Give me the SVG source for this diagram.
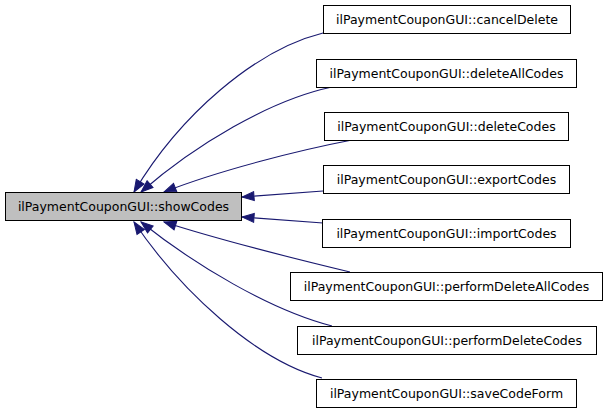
<svg xmlns="http://www.w3.org/2000/svg" width="608" height="413" viewBox="0 0 608 413">
<style>
.node rect{stroke:#000;stroke-width:1;fill:#fff}
#main rect{fill:#bfbfbf}
.node text{font-family:"DejaVu Sans",sans-serif;font-size:12.5px;text-anchor:middle;fill:#000}
.edge{fill:none;stroke:#191970;stroke-width:1.1;marker-end:url(#ah)}
</style>
<defs>
<marker id="ah" markerUnits="userSpaceOnUse" markerWidth="14" markerHeight="11" viewBox="0 0 14 11" refX="13" refY="5.5" orient="auto">
<path d="M1,1 L13,5.5 L1,10 z" fill="#191970" stroke="#191970" stroke-width="1"/>
</marker>
</defs>
<g id="edges">
<path class="edge" d="M323,33 C255,50 180,115 134,192"/>
<path class="edge" d="M332,87 C270,100 195,145 141,192"/>
<path class="edge" d="M352,140 C300,150 220,170 164,192"/>
<path class="edge" d="M323,191 L242,197"/>
<path class="edge" d="M323,223 L242,217"/>
<path class="edge" d="M350,272 C300,260 220,240 164,222"/>
<path class="edge" d="M332,326 C270,310 195,265 141,222"/>
<path class="edge" d="M322,378 C255,360 180,290 134,222"/>
</g>
<g id="main" class="node"><rect x="5.5" y="192.5" width="236" height="28"/><text x="123.5" y="211">ilPaymentCouponGUI::showCodes</text></g>
<g id="n1" class="node"><rect x="323.5" y="5.5" width="247" height="28"/><text x="447" y="24">ilPaymentCouponGUI::cancelDelete</text></g>
<g id="n2" class="node"><rect x="316.5" y="59.5" width="260" height="28"/><text x="446.5" y="78">ilPaymentCouponGUI::deleteAllCodes</text></g>
<g id="n3" class="node"><rect x="324.5" y="112.5" width="244" height="28"/><text x="446.5" y="131">ilPaymentCouponGUI::deleteCodes</text></g>
<g id="n4" class="node"><rect x="323.5" y="165.5" width="246" height="28"/><text x="446.5" y="184">ilPaymentCouponGUI::exportCodes</text></g>
<g id="n5" class="node"><rect x="322.5" y="219.5" width="248" height="28"/><text x="446.5" y="238">ilPaymentCouponGUI::importCodes</text></g>
<g id="n6" class="node"><rect x="290.5" y="272.5" width="312" height="28"/><text x="446.5" y="291">ilPaymentCouponGUI::performDeleteAllCodes</text></g>
<g id="n7" class="node"><rect x="297.5" y="326.5" width="299" height="28"/><text x="447" y="345">ilPaymentCouponGUI::performDeleteCodes</text></g>
<g id="n8" class="node"><rect x="316.5" y="379.5" width="260" height="28"/><text x="446.5" y="398">ilPaymentCouponGUI::saveCodeForm</text></g>
</svg>
